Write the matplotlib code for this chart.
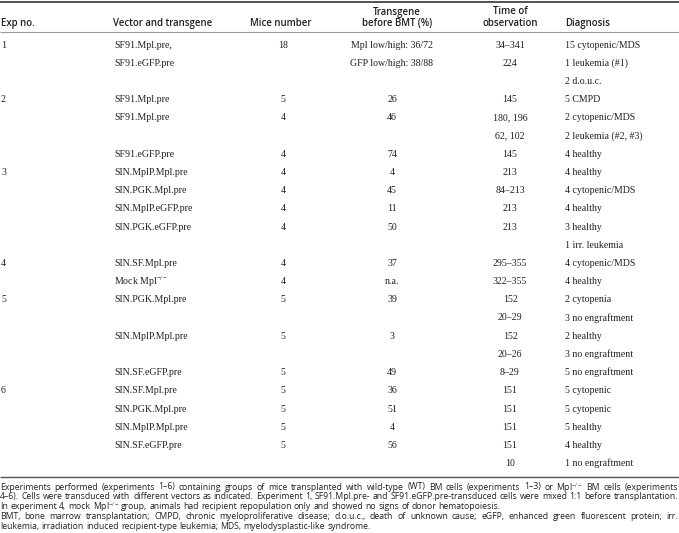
import matplotlib
matplotlib.use('Agg')
from matplotlib import pyplot as plt

# table contents, one entry per row ('' = empty cell)
exp_no = ['1', '', '', '2', '', '', '', '3', '', '', '', '', '4', '', '5', '', '', '', '', '6', '', '', '', '']
vectors = ['SF91.Mpl.pre,', 'SF91.eGFP.pre', '', 'SF91.Mpl.pre', 'SF91.Mpl.pre', '', 'SF91.eGFP.pre',
           'SIN.MplP.Mpl.pre', 'SIN.PGK.Mpl.pre', 'SIN.MplP.eGFP.pre', 'SIN.PGK.eGFP.pre', '',
           'SIN.SF.Mpl.pre', 'Mock Mpl$^{-/-}$', 'SIN.PGK.Mpl.pre', '', 'SIN.MplP.Mpl.pre', '',
           'SIN.SF.eGFP.pre', 'SIN.SF.Mpl.pre', 'SIN.PGK.Mpl.pre', 'SIN.MplP.Mpl.pre', 'SIN.SF.eGFP.pre', '']
mice = ['18', '', '', '5', '4', '', '4', '4', '4', '4', '4', '', '4', '4', '5', '', '5', '', '5', '5', '5', '5', '5', '']
transgene = ['Mpl low/high: 36/72', 'GFP low/high: 38/88', '', '26', '46', '', '74', '4', '45', '11', '50', '',
             '37', 'n.a.', '39', '', '3', '', '49', '36', '51', '4', '56', '']
time_obs = ['34–341', '224', '', '145', '180, 196', '62, 102', '145', '213', '84–213', '213', '213', '',
            '295–355', '322–355', '152', '20–29', '152', '20–26', '8–29', '151', '151', '151', '151', '10']
diagnosis = ['15 cytopenic/MDS', '1 leukemia (#1)', '2 d.o.u.c.', '5 CMPD', '2 cytopenic/MDS',
             '2 leukemia (#2, #3)', '4 healthy', '4 healthy', '4 cytopenic/MDS', '4 healthy', '3 healthy',
             '1 irr. leukemia', '4 cytopenic/MDS', '4 healthy', '2 cytopenia', '3 no engraftment',
             '2 healthy', '3 no engraftment', '5 no engraftment', '5 cytopenic', '5 cytopenic',
             '5 healthy', '4 healthy', '1 no engraftment']

footnotes = [
    ('Experiments performed (experiments 1–6) containing groups of mice transplanted with wild-type (WT) '
     'BM cells (experiments 1–3) or Mpl$^{-/-}$ BM cells (experiments', True),
    ('4–6). Cells were transduced with different vectors as indicated. Experiment 1, SF91.Mpl.pre- and '
     'SF91.eGFP.pre-transduced cells were mixed 1:1 before transplantation.', True),
    ('In experiment 4, mock Mpl$^{-/-}$ group, animals had recipient repopulation only and showed no '
     'signs of donor hematopoiesis.', False),
    ('BMT, bone marrow transplantation; CMPD, chronic myeloproliferative disease; d.o.u.c., death of '
     'unknown cause; eGFP, enhanced green fluorescent protein; irr.', True),
    ('leukemia, irradiation induced recipient-type leukemia; MDS, myelodysplastic-like syndrome.', False),
]

plt.rcParams['mathtext.fontset'] = 'custom'
plt.rcParams['mathtext.rm'] = 'Liberation Serif'
plt.rcParams['mathtext.it'] = 'Liberation Serif:italic'

W, H = 679, 533
fig = plt.figure(figsize=(W / 100, H / 100), dpi=100)
ax = fig.add_axes([0, 0, 1, 1])
ax.set_xlim(0, W)
ax.set_ylim(H, 0)
ax.axis('off')

ink = '#231f20'
body = dict(family='Liberation Serif', fontsize=7.1, color=ink, va='center')
head = dict(family='Open Sans', fontweight='semibold', fontsize=6.9, color=ink, va='center')
note = dict(family='Open Sans', fontsize=6.2, color=ink, va='center')

# rules
ax.plot([0, W], [1.5, 1.5], color='#444444', lw=1.3, solid_capstyle='butt')
ax.plot([0, W], [32, 32], color='#999999', lw=0.8, solid_capstyle='butt')
ax.plot([0, W], [477, 477], color='#555555', lw=1.0, solid_capstyle='butt')

# header
ax.text(1, 23.5, 'Exp no.', ha='left', **head)
ax.text(113, 23.5, 'Vector and transgene', ha='left', **head)
ax.text(281, 23.5, 'Mice number', ha='center', **head)
ax.text(397, 12, 'Transgene', ha='center', **head)
ax.text(397, 23.5, 'before BMT (%)', ha='center', **head)
ax.text(510, 12, 'Time of', ha='center', **head)
ax.text(510, 23.5, 'observation', ha='center', **head)
ax.text(565, 23.5, 'Diagnosis', ha='left', **head)

# body rows
for k in range(len(diagnosis)):
    y = 45 + 18.2 * k
    ax.text(1, y, exp_no[k], ha='left', **body)
    ax.text(114, y, vectors[k], ha='left', **body)
    ax.text(283, y, mice[k], ha='center', **body)
    ax.text(392, y, transgene[k], ha='center', **body)
    ax.text(510, y, time_obs[k], ha='center', **body)
    ax.text(565, y, diagnosis[k], ha='left', **body)

# footnotes, justified like the printed table
renderer = fig.canvas.get_renderer()


def width_of(s):
    t = ax.text(0, 0, s, **note)
    w = t.get_window_extent(renderer).width
    t.remove()
    return w


space = width_of('a a') - width_of('aa')
for i, (line, full) in enumerate(footnotes):
    y = 487 + 9.8 * i
    words = line.split(' ')
    widths = [width_of(w) for w in words]
    if full:
        gap = (W - 1 - sum(widths)) / (len(words) - 1)
    else:
        gap = space
    x = 0
    for w, wd in zip(words, widths):
        ax.text(x, y, w, ha='left', **note)
        x += wd + gap

plt.savefig('out.png', dpi=100)
